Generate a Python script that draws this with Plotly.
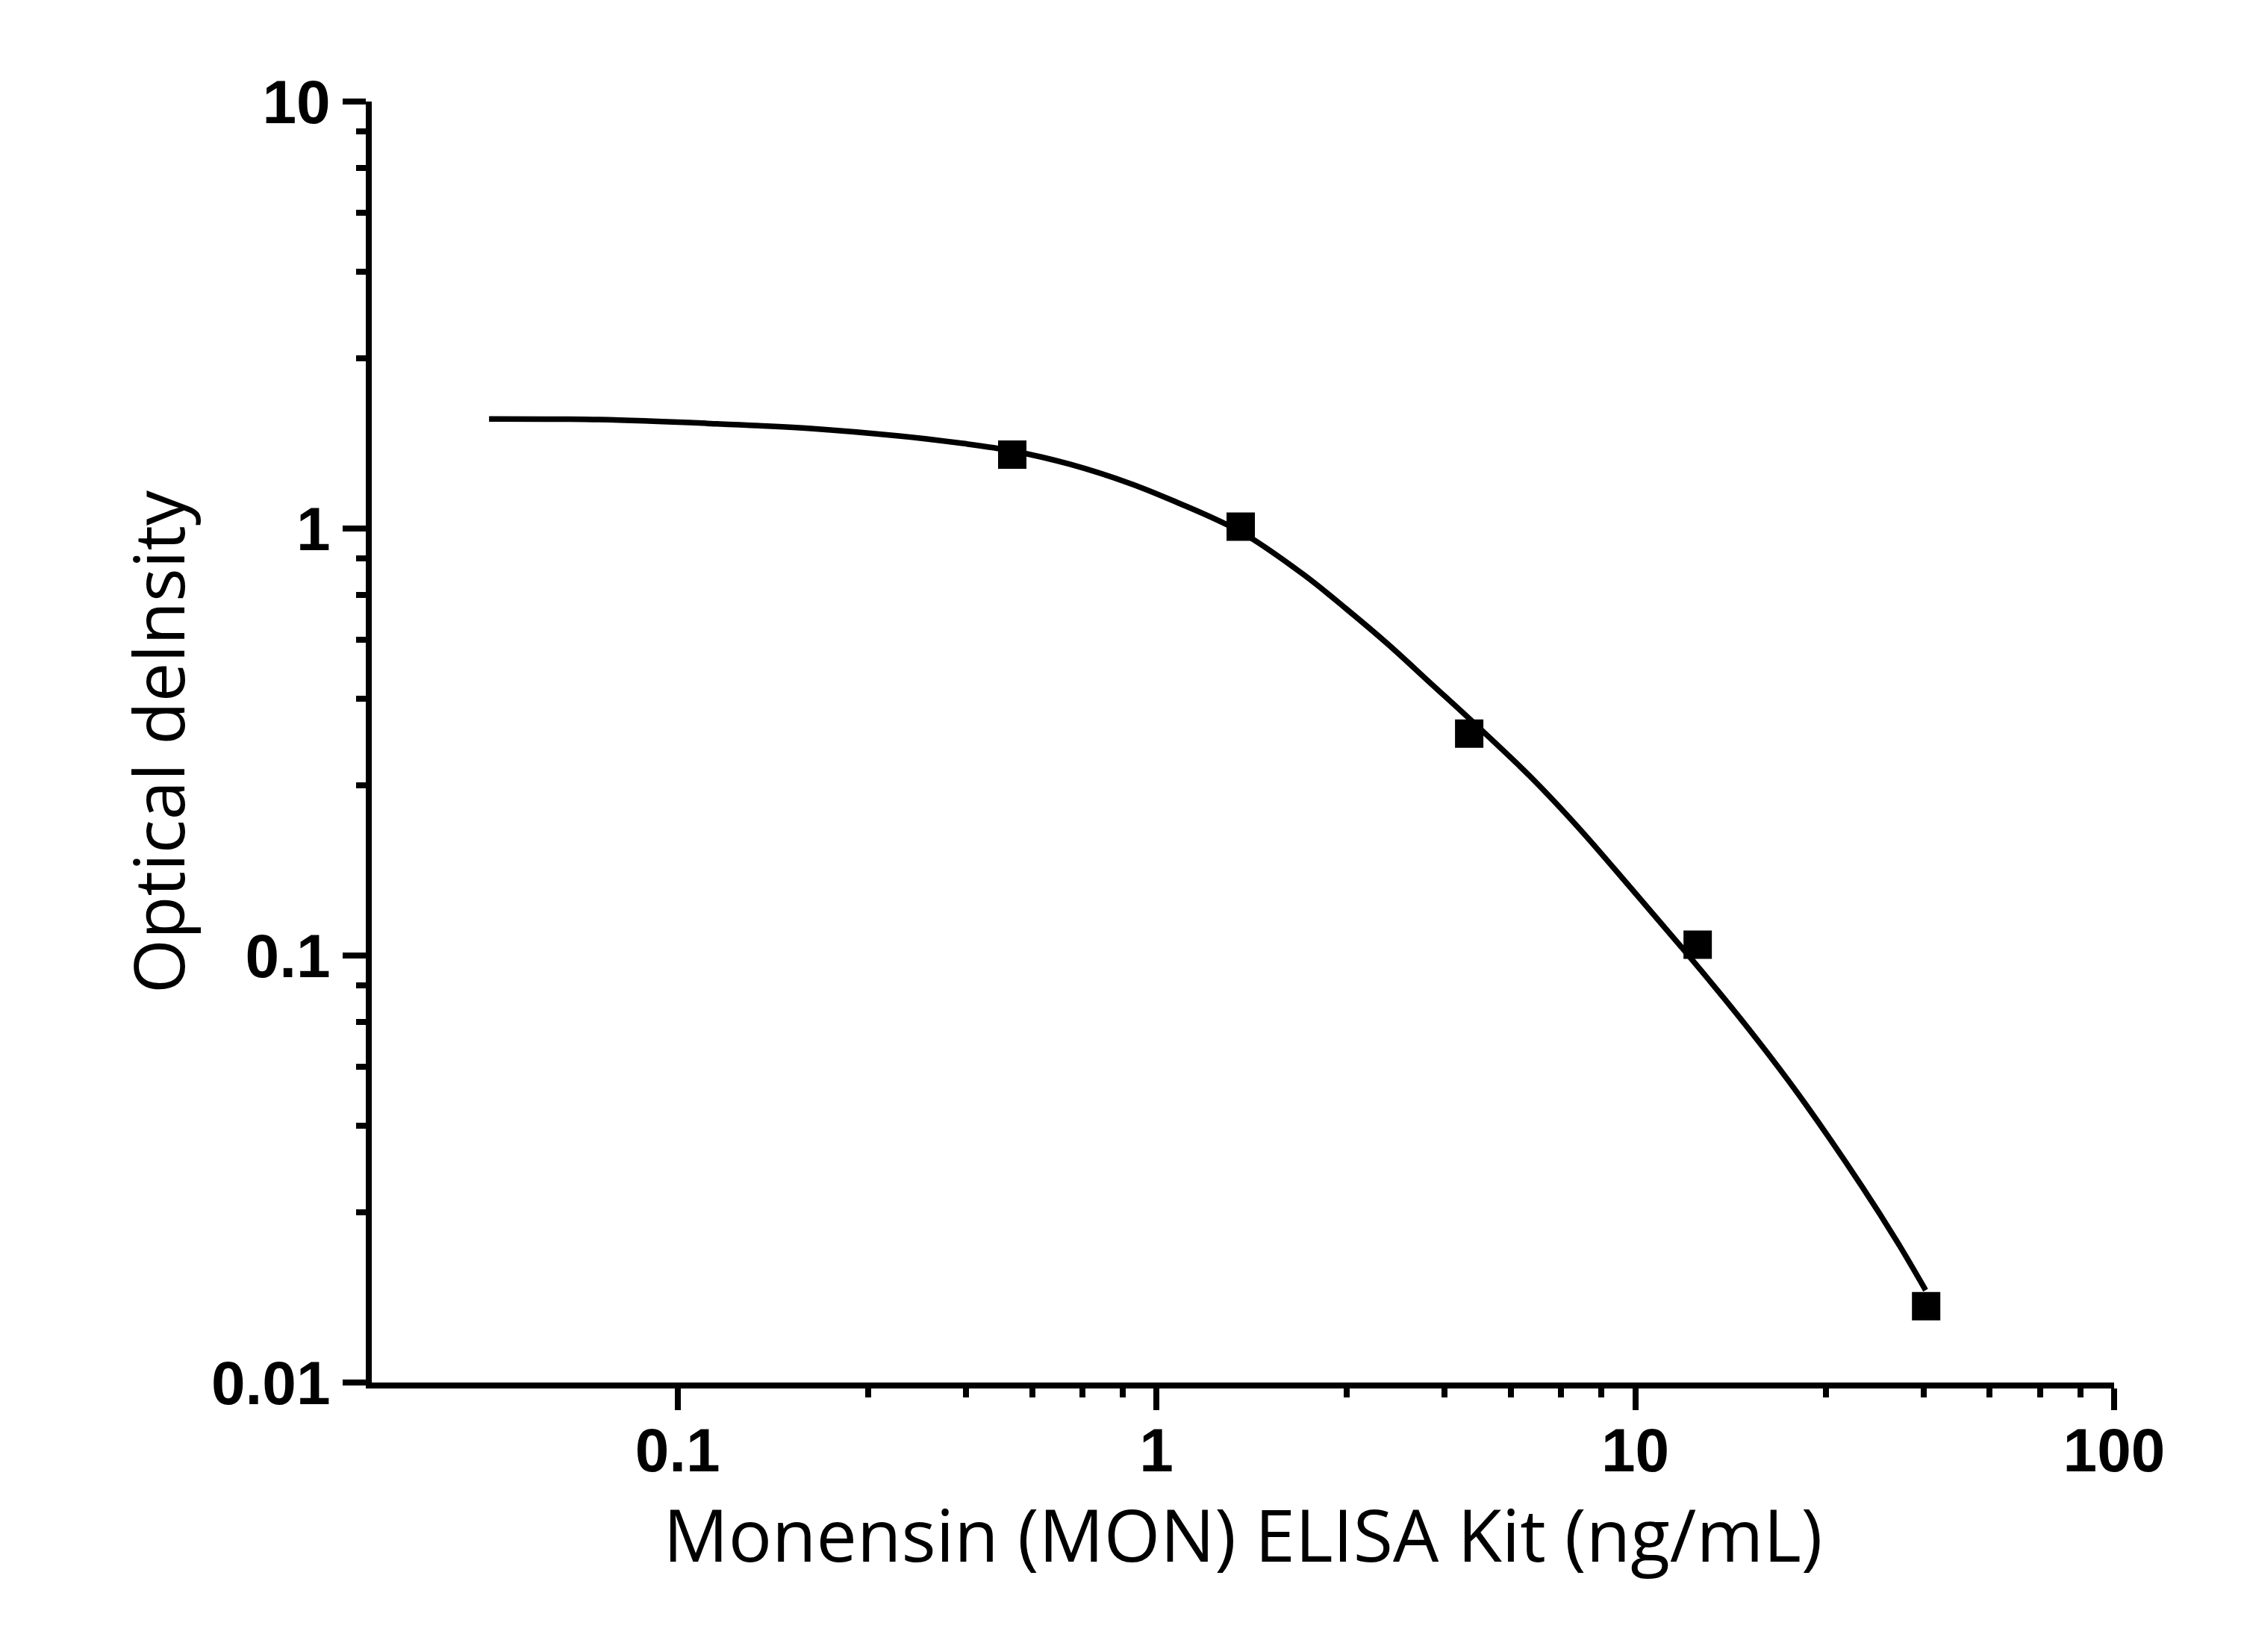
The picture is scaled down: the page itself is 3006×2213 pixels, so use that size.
import plotly.graph_objects as go

# standards (ng/mL) and measured optical density
conc = [0.5, 1.5, 4.5, 13.5, 40.5]
od = [1.49, 1.01, 0.331, 0.106, 0.0151]

# fitted curve
fit_x = [0.0404, 0.0686, 0.115, 0.192, 0.290, 0.395, 0.50, 0.66, 0.888, 1.091,
         1.50, 2.023, 2.485, 3.05, 3.752, 4.609, 6.05, 7.69, 9.76, 12.41, 15.75,
         19.0, 22.7, 29.8, 35.2, 40.4]
fit_y = [1.806, 1.799, 1.763, 1.714, 1.647, 1.582, 1.520, 1.414, 1.271, 1.158,
         0.982, 0.782, 0.650, 0.535, 0.4325, 0.350, 0.2618, 0.1967, 0.1445, 0.1055,
         0.0765, 0.0586, 0.0448, 0.0287, 0.0214, 0.01645]

x_ticks = [0.1, 1, 10, 100]
x_ticktext = ["0.1", "1", "10", "100"]
y_ticks = [0.01, 0.1, 1, 10]
y_ticktext = ["0.01", "0.1", "1", "10"]
minor_steps = [2.5, 4, 5.5, 7, 8.5]
x_minor = [m * d for d in [0.1, 1, 10] for m in minor_steps]
y_minor = [m * d for d in [0.01, 0.1, 1] for m in minor_steps]

fig = go.Figure()

fig.add_trace(go.Scatter(
  x=fit_x, y=fit_y,
  mode="lines",
  line=dict(color="black", width=7.5, shape="spline"),
  showlegend=False,
))

fig.add_trace(go.Scatter(
  x=conc, y=od,
  mode="markers",
  marker=dict(symbol="square", size=38, color="black", line=dict(width=0)),
  showlegend=False,
))

tickfont = dict(family="Liberation Sans", size=82, color="black", weight="bold")

fig.update_layout(
  width=2990, height=2197,
  paper_bgcolor="white", plot_bgcolor="white",
  margin=dict(l=490, r=166, t=128, b=353),
)

fig.update_xaxes(
  type="log", range=[-1.6386, 2],
  showgrid=False, zeroline=False,
  showline=True, linecolor="black", linewidth=8,
  ticks="outside", ticklen=29, tickwidth=8, tickcolor="black",
  tickvals=x_ticks, ticktext=x_ticktext, tickfont=tickfont,
  ticklabelstandoff=-16,
  minor=dict(tickvals=x_minor, ticks="outside", ticklen=12, tickwidth=8,
             tickcolor="black", showgrid=False),
  title=dict(text="Monensin (MON) ELISA Kit (ng/mL)",
             font=dict(family="Open Sans", size=97, color="black"), standoff=34),
)

fig.update_yaxes(
  type="log", range=[-2, 1],
  showgrid=False, zeroline=False,
  showline=True, linecolor="black", linewidth=8,
  ticks="outside", ticklen=31, tickwidth=8, tickcolor="black",
  tickvals=y_ticks, ticktext=y_ticktext, tickfont=tickfont,
  minor=dict(tickvals=y_minor, ticks="outside", ticklen=13, tickwidth=8,
             tickcolor="black", showgrid=False),
  title=dict(text="Optical delnsity",
             font=dict(family="Open Sans", size=94, color="black"), standoff=7),
)

fig.write_html("out.html")
